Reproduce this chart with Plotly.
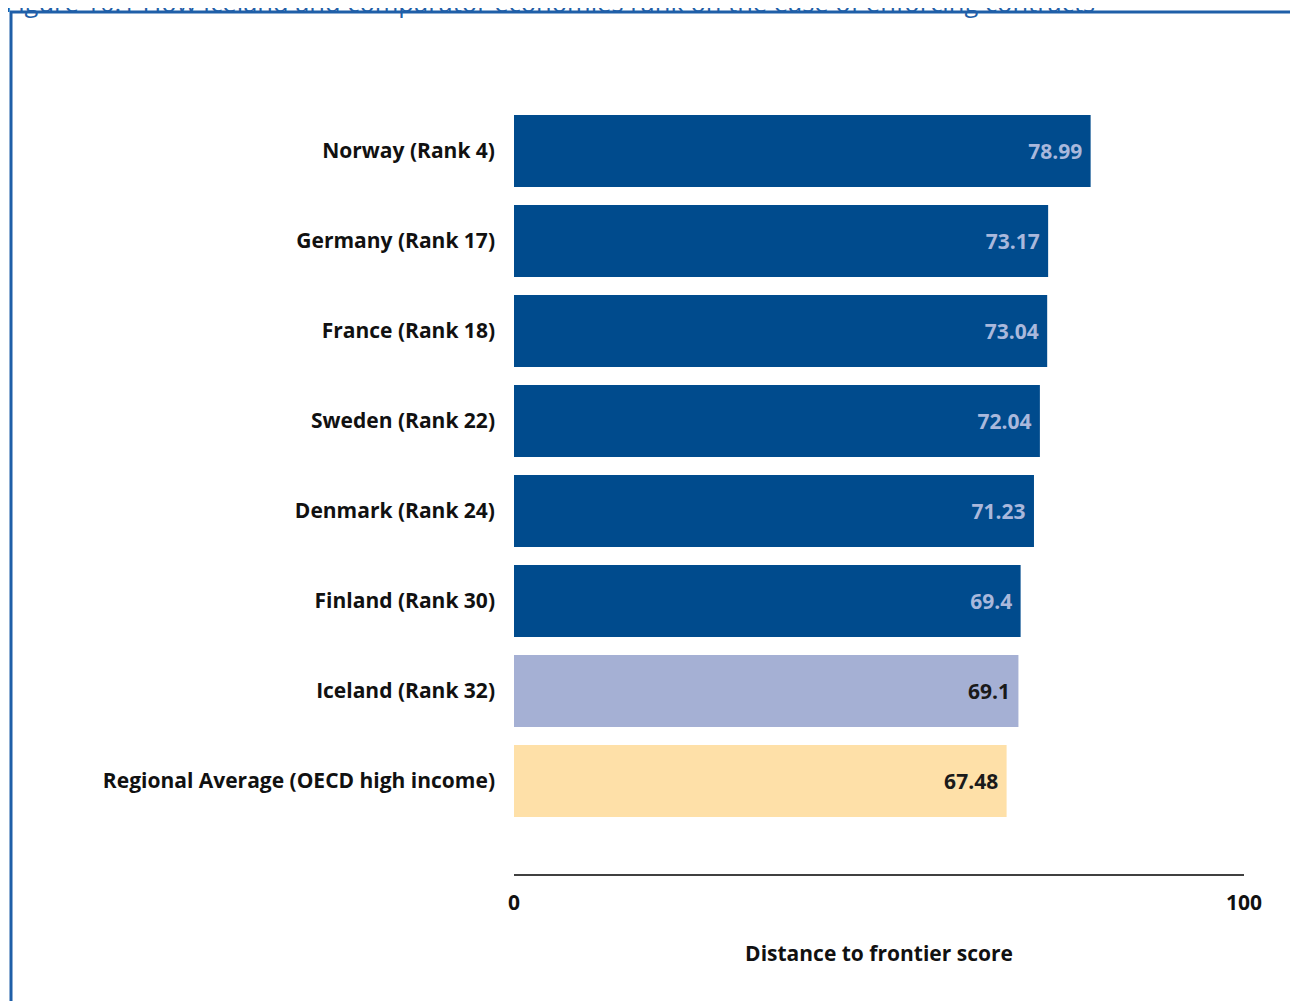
import plotly.graph_objects as go

# Data (top to bottom as displayed)
countries = [
    "Norway (Rank 4)",
    "Germany (Rank 17)",
    "France (Rank 18)",
    "Sweden (Rank 22)",
    "Denmark (Rank 24)",
    "Finland (Rank 30)",
    "Iceland (Rank 32)",
    "Regional Average (OECD high income)",
]
scores = [78.99, 73.17, 73.04, 72.04, 71.23, 69.4, 69.1, 67.48]
x_ticks = [0, 100]
title_text = "Figure 10.1 How Iceland and comparator economies rank on the ease of enforcing contracts"
x_title = "Distance to frontier score"

DARK = "#004b8d"
ICE = "#a5b0d4"
REG = "#fee0a8"
bar_colors = [DARK] * 6 + [ICE, REG]
text_colors = ["#a9b8dc"] * 6 + ["#1a1a1a", "#1a1a1a"]

# reverse so first item is at top
cats = countries[::-1]
vals = scores[::-1]
cols = bar_colors[::-1]
tcols = text_colors[::-1]
labels = [f"{v}\u00a0" for v in vals]

# page body has an 8px offset, so the figure is 8px smaller than the window
W, H = 1290, 993
ML, MR, MT, MB = 506, 54, 52, 127
PW = W - ML - MR
PH = H - MT - MB


def px_x(p):
    return (p - ML) / PW


def px_y(p):
    return 1 - (p - MT) / PH


FONT = "Open Sans"
FS = 21

fig = go.Figure()
fig.add_trace(go.Bar(
    y=cats,
    x=vals,
    orientation="h",
    marker=dict(color=cols, line=dict(width=0)),
    text=labels,
    textposition="inside",
    insidetextanchor="end",
    textangle=0,
    constraintext="none",
    textfont=dict(color=tcols, size=FS, family=FONT, weight="bold"),
    cliponaxis=False,
    hoverinfo="skip",
))

fig.update_layout(
    width=W, height=H,
    margin=dict(l=ML, r=MR, t=MT, b=MB, pad=0),
    paper_bgcolor="white",
    plot_bgcolor="white",
    showlegend=False,
    bargap=0.2,
    font=dict(family=FONT, size=FS, color="#111111"),
    xaxis=dict(
        range=[0, 100],
        tickvals=x_ticks,
        ticktext=[str(t) for t in x_ticks],
        showgrid=False,
        zeroline=False,
        showline=True,
        linecolor="#404040",
        linewidth=2,
        ticks="",
        ticklabelstandoff=9,
        tickfont=dict(size=FS, family=FONT, color="#111111", weight="bold"),
        title=dict(text=x_title, standoff=31,
                   font=dict(size=FS, family=FONT, color="#111111", weight="bold")),
        fixedrange=True,
    ),
    yaxis=dict(
        type="category",
        categoryorder="array",
        categoryarray=cats,
        range=[-1.033, 8.011],
        showgrid=False,
        zeroline=False,
        showline=False,
        ticks="",
        ticklabelstandoff=18,
        tickfont=dict(size=FS, family=FONT, color="#111111", weight="bold"),
        fixedrange=True,
    ),
)

# Frame lines (blue border)
fig.add_shape(type="line", xref="paper", yref="paper",
              x0=px_x(3), x1=px_x(3), y0=px_y(4), y1=px_y(H + 5),
              line=dict(color="#1f5fa8", width=3))
fig.add_shape(type="line", xref="paper", yref="paper",
              x0=px_x(2), x1=px_x(W + 5), y0=px_y(4), y1=px_y(4),
              line=dict(color="#1f5fa8", width=3))

# Partially cut title at the top (as in the reference)
fig.add_annotation(
    text=title_text, xref="paper", yref="paper",
    x=px_x(-5), y=px_y(-6), xanchor="left", yanchor="middle",
    showarrow=False,
    font=dict(size=25.5, family=FONT, color="#1f5fa8", weight="normal"),
)

fig.write_html("out.html")
